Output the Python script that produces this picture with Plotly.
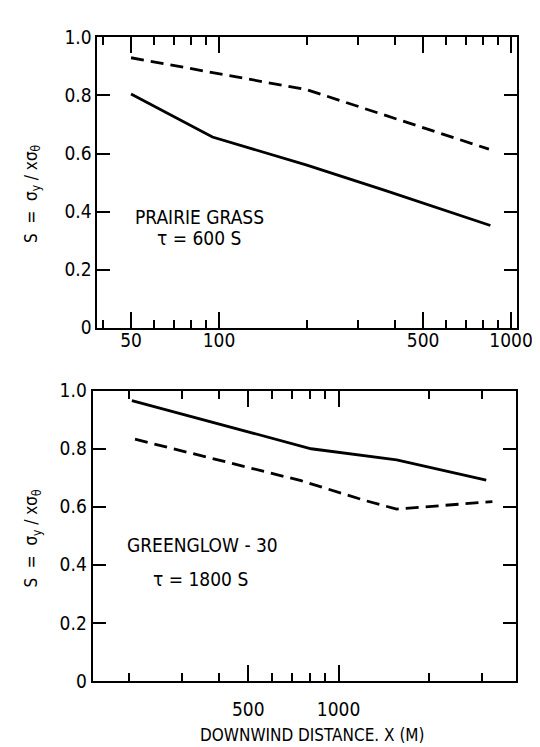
import plotly.graph_objects as go

# ---- data ----
pg_x_solid = [50, 95, 200, 370, 850]
pg_y_solid = [0.805, 0.657, 0.56, 0.473, 0.352]
pg_x_dash = [50, 200, 840]
pg_y_dash = [0.93, 0.82, 0.615]

gg_x_solid = [205, 400, 810, 1560, 3100]
gg_y_solid = [0.966, 0.885, 0.80, 0.762, 0.692]
gg_x_dash = [210, 750, 1220, 1560, 3250]
gg_y_dash = [0.833, 0.69, 0.622, 0.592, 0.618]

y_ticks = [0, 0.2, 0.4, 0.6, 0.8, 1.0]
y_tick_text = ["0", "0.2", "0.4", "0.6", "0.8", "1.0"]
top_x_major = [50, 100, 500, 1000]
top_x_major_text = ["50", "100", "500", "1000"]
top_x_minor = [40, 60, 70, 80, 90, 200, 300, 400, 600, 700, 800, 900]
bot_x_major = [500, 1000]
bot_x_major_text = ["500", "1000"]
bot_x_minor = [200, 300, 400, 600, 700, 800, 900, 2000, 3000]

FONT = "DejaVu Sans Condensed, Liberation Sans Narrow, sans-serif"
W, H = 540, 747

fig = go.Figure()
line_solid = dict(color="black", width=2.8)
line_dash = dict(color="black", width=2.8, dash="13px,7px")

fig.add_trace(go.Scatter(x=pg_x_solid, y=pg_y_solid, mode="lines", line=line_solid,
                         xaxis="x", yaxis="y", showlegend=False))
fig.add_trace(go.Scatter(x=pg_x_dash, y=pg_y_dash, mode="lines", line=line_dash,
                         xaxis="x", yaxis="y", showlegend=False))
fig.add_trace(go.Scatter(x=gg_x_solid, y=gg_y_solid, mode="lines", line=line_solid,
                         xaxis="x2", yaxis="y2", showlegend=False))
fig.add_trace(go.Scatter(x=gg_x_dash, y=gg_y_dash, mode="lines", line=line_dash,
                         xaxis="x2", yaxis="y2", showlegend=False))

def xax(domain, rng, major, major_text, minor, anchor, standoff):
    return dict(type="log", domain=domain, range=rng, anchor=anchor,
                tickmode="array", tickvals=major, ticktext=major_text,
                ticks="inside", ticklen=16, tickwidth=1.8, tickcolor="black",
                ticklabelstandoff=standoff,
                minor=dict(tickmode="array", tickvals=minor, ticks="inside",
                           ticklen=8, tickwidth=1.6, tickcolor="black", showgrid=False),
                showline=True, linewidth=2, linecolor="black", mirror="ticks",
                showgrid=False, zeroline=False,
                tickfont=dict(family=FONT, size=19, color="black"))

def yax(domain, anchor):
    return dict(domain=domain, range=[0, 1.0], anchor=anchor,
                tickmode="array", tickvals=y_ticks, ticktext=y_tick_text,
                ticks="inside", ticklen=13, tickwidth=1.8, tickcolor="black",
                showline=True, linewidth=2, linecolor="black", mirror="ticks",
                showgrid=False, zeroline=False,
                tickfont=dict(family=FONT, size=19, color="black"))

top_xd = [92 / W, 524 / W]
bot_xd = [87 / W, 523 / W]
top_yd = [1 - 318 / H, 1 - 19 / H]
bot_yd = [1 - 682 / H, 1 - 383 / H]

fig.update_layout(
    width=W, height=H,
    margin=dict(l=0, r=0, t=0, b=0),
    paper_bgcolor="white", plot_bgcolor="white",
    xaxis=xax(top_xd, [1.584, 3.022], top_x_major, top_x_major_text, top_x_minor, "y", -5),
    yaxis=yax(top_yd, "x"),
    xaxis2=xax(bot_xd, [2.181, 3.592], bot_x_major, bot_x_major_text, bot_x_minor, "y2", 10),
    yaxis2=yax(bot_yd, "x2"),
)

def ann(text, x, y, size=18, angle=0):
    fig.add_annotation(text=text, x=x / W, y=1 - y / H, xref="paper", yref="paper",
                       showarrow=False, textangle=angle, xanchor="center", yanchor="middle",
                       font=dict(family=FONT, size=size, color="black"))

ann("PRAIRIE GRASS", 197, 204, size=19)
ann("\u03c4 = 600 S", 196, 226, size=19)
ann("GREENGLOW - 30", 200, 542, size=19)
ann("\u03c4 = 1800 S", 198, 577, size=19)
ytitle = "S  =  \u03c3<sub>y</sub> / x\u03c3<sub>\u03b8</sub>"
ann(ytitle, 25, 180, size=17, angle=-90)
ann(ytitle, 25, 535, size=17, angle=-90)
ann("DOWNWIND DISTANCE. X (M)", 313, 738, size=17)

fig.write_html("out.html")
